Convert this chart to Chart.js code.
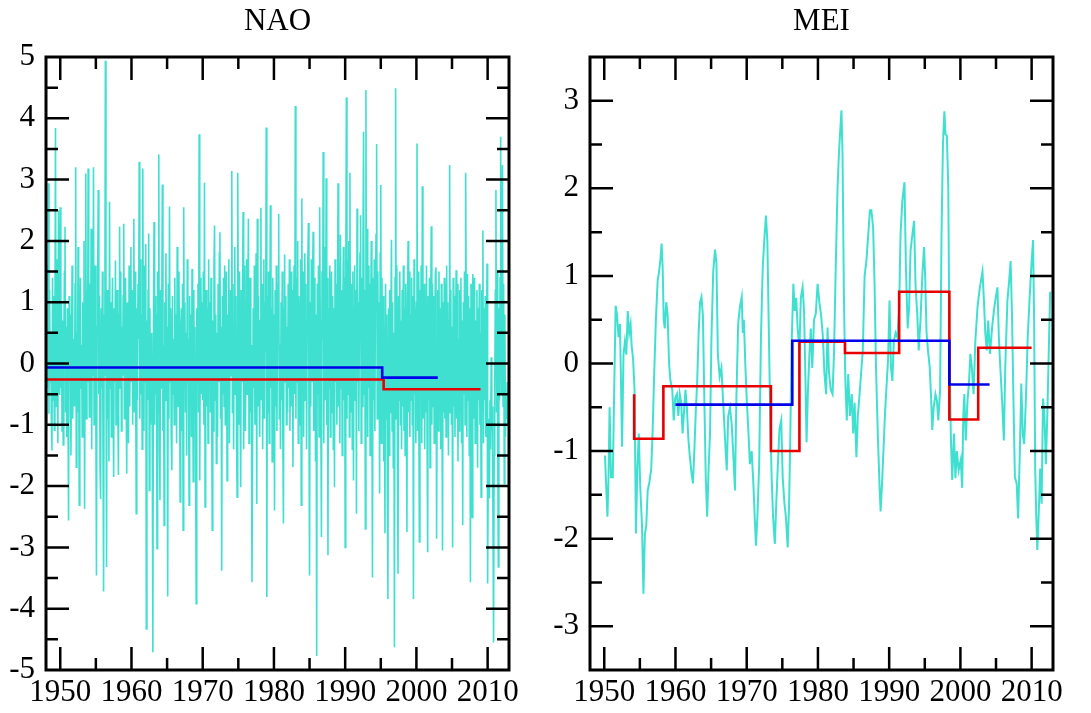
<!DOCTYPE html>
<html><head><meta charset="utf-8">
<script src="https://cdn.jsdelivr.net/npm/chart.js@4.4.1/dist/chart.umd.min.js"></script>
<style>
html,body{margin:0;padding:0;background:#fff;}
#wrap{position:relative;width:1091px;height:713px;overflow:hidden;}
canvas{position:absolute;top:0;}
</style></head><body>
<div id="wrap">
<canvas id="nao" width="545" height="713" style="left:0px"></canvas>
<canvas id="mei" width="546" height="713" style="left:545px"></canvas>
</div>
<script>
// ---------- DATA ----------
const naoStartYear = 1948;
const naoMonthly = [
 0.8,-1.1,1.6,-0.4,2.94,-0.82,1.2,-0.3,0.5,-0.9,-1.42,1.4,
 -0.6,1.1,-1.09,0.4,3.84,-0.7,1.7,0.2,-1.3,2.5,-0.5,0.9,
 2.55,-0.4,1.0,-1.1,0.7,-1.33,0.3,1.5,2.23,-0.8,0.6,-1.2,
 0.9,-0.6,-2.56,1.1,-0.3,0.8,-1.5,0.2,1.6,-0.9,0.4,-0.2,
 -0.7,1.3,3.2,-1.69,0.5,-0.8,1.9,0.1,-2.31,0.6,1.4,-0.4,
 0.3,-1.2,1.0,-0.5,2.0,-2.37,0.7,3.1,-0.9,1.2,-0.3,3.18,
 0.5,-0.87,1.3,-0.6,2.2,-1.4,0.9,-0.2,3.2,-1.0,0.4,1.6,
 -0.8,-3.46,0.6,1.4,2.83,-0.5,1.1,-1.7,-2.21,0.9,-0.4,1.5,
 -1.3,-3.72,0.8,-0.2,4.94,0.6,-3.32,1.2,-0.9,0.5,-1.6,2.64,
 -0.4,1.0,-1.2,0.3,1.4,-0.6,-1.85,0.9,-0.3,1.68,-1.0,0.5,
 1.2,-0.7,-1.82,0.8,2.23,-0.4,1.5,-1.1,0.6,-0.2,1.1,2.28,
 -0.9,0.7,1.4,-0.5,-1.8,1.0,0.2,-1.3,1.6,-0.7,0.4,1.9,
 -0.3,1.2,-1.0,0.6,2.36,-0.8,1.5,-0.1,-2.45,0.9,-0.6,1.3,
 0.4,3.29,-0.9,1.7,-0.5,0.8,-1.4,3.18,0.2,-1.1,1.6,-0.3,
 1.95,-4.33,0.7,-0.6,1.2,2.12,-2.07,0.9,-1.0,-0.4,0.5,-1.2,
 -4.71,0.4,2.31,-1.0,1.1,-0.5,0.8,-3.02,1.5,-0.8,3.41,-1.3,
 -2.23,1.2,-0.4,0.7,2.92,-1.1,0.3,-2.64,1.0,-0.6,1.8,-0.2,
 0.6,-3.8,1.3,-0.9,2.56,-0.3,0.9,-1.2,-1.74,1.1,-0.5,0.4,
 -1.0,1.4,-0.6,0.8,-1.3,1.9,0.2,-0.7,1.5,-0.2,-2.26,0.6,
 0.9,-1.1,1.3,-2.72,2.55,-0.4,1.0,-0.8,0.5,-1.5,1.7,-0.3,
 0.4,-2.31,1.1,-0.5,0.8,-1.2,1.54,0.3,-1.93,1.2,-0.7,0.6,
 -1.4,-3.92,0.9,-0.3,1.3,-0.8,3.74,-1.91,0.6,1.4,-0.5,1.0,
 -0.6,1.5,-1.0,2.95,-2.34,0.4,1.2,-0.7,0.9,-1.3,1.7,-0.2,
 1.0,-0.8,1.4,-0.4,-2.72,0.7,-1.1,1.6,2.25,-0.6,0.8,-1.63,
 0.5,-1.2,1.3,-0.3,1.8,2.14,-0.9,0.6,-3.38,1.1,-0.5,1.4,
 -0.7,1.6,-1.0,0.9,1.5,-1.91,0.8,-0.4,1.7,-1.3,0.3,1.2,
 -0.2,3.14,-0.8,1.3,-1.4,0.6,1.9,-0.5,1.1,-1.2,-2.18,3.11,
 0.7,-1.0,1.5,-0.6,-2.02,1.2,-0.3,0.9,2.47,-1.4,0.4,1.6,
 -1.1,0.8,1.7,-0.5,1.0,2.36,-1.3,0.6,1.4,-0.8,0.3,-3.57,
 -1.5,0.9,-0.4,1.6,-1.0,0.5,1.8,-2.29,2.36,-0.7,1.1,-0.3,
 -1.2,0.7,2.54,-0.6,1.3,-1.4,0.4,1.7,-0.9,1.0,0.2,3.85,
 -3.81,1.1,-0.8,1.5,-1.3,0.6,2.58,-0.4,0.9,-1.6,1.4,-0.5,
 0.8,-2.4,1.2,-0.7,1.6,-1.1,0.5,1.3,2.44,-0.9,0.3,-1.4,
 1.0,-0.6,1.5,-1.2,-2.61,0.9,1.78,-0.3,1.1,-1.0,0.6,-0.8,
 1.3,-0.4,1.7,-1.1,0.8,1.5,-0.7,1.2,-1.69,0.9,1.6,-0.5,
 4.2,-0.9,1.4,-0.3,2.0,-1.3,1.1,0.6,-1.0,1.7,-2.31,2.69,
 -0.4,1.5,-1.2,0.9,1.8,-0.6,1.3,-1.4,0.7,1.6,2.29,-0.8,
 -3.46,1.0,-0.7,1.7,-0.3,1.2,2.15,-1.1,0.5,1.4,-1.6,0.8,
 -4.77,1.3,-0.5,1.6,-1.2,2.55,0.7,-0.9,-2.83,1.5,0.4,3.45,
 -1.3,0.8,1.9,-0.6,3.02,-1.0,1.4,-3.13,0.9,-0.4,1.6,-1.2,
 0.6,1.5,-0.8,1.1,-1.4,0.9,-2.02,1.7,-0.3,1.3,-1.0,0.5,
 2.94,-0.7,1.6,-1.3,2.1,-0.4,1.2,-1.5,0.8,1.9,-0.6,1.4,
 -3.0,1.1,4.34,-0.9,1.7,-0.5,2.0,-1.2,3.11,-0.8,1.3,0.4,
 -1.4,1.5,-1.91,0.9,1.6,-0.6,1.2,-2.45,2.53,-0.3,1.0,-1.1,
 0.7,1.8,2.42,-1.3,1.4,-0.7,1.9,3.78,-0.5,1.2,-2.7,4.46,
 -0.9,2.2,-1.2,1.6,-0.4,1.3,-1.5,0.8,2.0,-0.7,-3.49,1.4,
 -0.6,1.7,-1.1,1.2,2.1,3.58,-0.9,1.5,-0.3,1.0,-2.12,1.8,
 2.91,-1.3,1.4,-0.5,1.1,-1.6,0.6,-2.77,1.3,-0.9,0.8,-1.8,
 -3.84,0.9,-1.5,1.2,-0.8,0.6,2.02,-1.1,1.0,-1.7,0.5,-4.63,
 1.4,4.49,-0.9,1.6,-1.2,-3.43,1.1,-0.6,1.5,-1.0,0.7,-1.4,
 1.2,-0.7,1.6,-1.1,0.9,-1.5,1.3,-0.4,-2.75,1.0,2.0,-0.8,
 1.5,-1.2,0.8,-0.6,1.4,-1.0,1.1,-3.84,1.7,-0.5,0.9,-1.3,
 1.0,3.59,-1.1,1.5,-0.7,-2.91,1.2,-0.4,1.6,-1.3,2.89,-0.9,
 -0.5,1.3,-1.4,0.9,-0.8,1.6,-1.2,-3.08,1.1,-0.6,1.4,-1.7,
 0.8,2.24,-1.0,1.3,-0.7,1.1,-1.3,0.6,1.5,1.57,-2.86,-0.4,
 1.2,-1.1,1.5,-0.6,0.9,-1.4,1.3,-0.5,-3.05,1.0,-0.8,1.4,
 -0.9,1.3,-1.2,1.6,-0.4,1.0,-1.5,0.7,3.24,-0.8,1.2,-1.0,
 0.6,-3.0,1.4,-0.7,1.1,-1.2,0.5,1.52,-0.9,1.3,-1.6,0.4,
 -1.1,1.2,-0.8,1.4,-1.3,0.7,-2.64,1.0,-0.5,1.5,-1.0,3.11,
 0.8,-1.2,1.46,-0.6,1.1,-1.5,0.9,-3.57,1.3,-0.7,-2.51,1.46,
 1.0,-0.9,1.4,-1.3,0.7,-1.1,1.2,-1.7,0.9,-0.6,1.3,-1.0,
 0.5,-2.18,1.2,-0.8,2.17,-1.3,0.9,-0.6,1.1,-1.2,0.4,1.63,
 -3.59,-1.8,-0.9,-2.2,-0.6,-1.4,0.1,-1.1,-0.7,-2.6,-4.55,-1.5,
 -0.4,1.2,2.83,-0.8,1.5,-1.3,-3.32,0.9,-0.6,1.4,3.7,-0.5,
 1.1,3.24,-0.7,1.3,-1.96,0.8,-1.2,-0.6,-0.9,-0.3,-1.0,-0.6
];
const naoBlueX = [1948, 1995.2, 2003.0];
const naoBlueY = [-0.065, -0.23, -0.23];
const naoRedX  = [1948, 1995.4, 2009.0];
const naoRedY  = [-0.26, -0.42, -0.42];

const meiSeries = [
 [1950.1,-1.05],[1950.25,-1.35],[1950.45,-1.75],[1950.6,-1.3],[1950.75,-0.5],[1950.95,-1.3],
 [1951.2,-1.3],[1951.4,-0.3],[1951.6,0.66],[1951.8,0.55],[1952.0,0.3],[1952.2,0.45],
 [1952.35,-0.2],[1952.5,-0.95],[1952.7,0.1],[1952.9,0.25],[1953.1,0.1],[1953.3,0.6],
 [1953.5,0.35],[1953.7,0.45],[1953.85,0.2],[1954.05,0.05],[1954.25,-0.3],[1954.45,-1.94],
 [1954.65,-1.2],[1954.85,-0.8],[1955.05,-1.4],[1955.3,-1.85],[1955.5,-2.63],[1955.7,-1.95],
 [1955.9,-1.85],[1956.1,-1.45],[1956.35,-1.35],[1956.6,-1.2],[1956.8,-0.75],[1957.0,-0.15],
 [1957.25,0.5],[1957.5,0.95],[1957.7,1.05],[1957.9,1.2],[1958.05,1.37],[1958.2,1.1],
 [1958.35,0.5],[1958.5,0.4],[1958.7,0.7],[1958.9,0.55],[1959.1,0.0],[1959.3,-0.2],
 [1959.55,-0.3],[1959.75,-0.65],[1959.95,-0.4],[1960.2,-0.35],[1960.4,-0.6],[1960.6,-0.35],
 [1960.8,-0.45],[1961.0,-0.8],[1961.2,-0.55],[1961.4,-0.3],[1961.6,-0.5],[1961.8,-0.85],
 [1962.0,-1.05],[1962.25,-1.25],[1962.45,-1.37],[1962.65,-1.0],[1962.85,-0.55],[1963.05,-0.2],
 [1963.25,0.35],[1963.45,0.7],[1963.65,0.76],[1963.85,0.55],[1964.05,-0.4],[1964.25,-1.3],
 [1964.45,-1.75],[1964.65,-1.2],[1964.85,-0.8],[1965.05,0.3],[1965.3,1.05],[1965.55,1.3],
 [1965.75,1.15],[1965.95,0.1],[1966.2,-0.15],[1966.45,-0.05],[1966.7,-0.45],[1966.95,-0.85],
 [1967.2,-1.22],[1967.4,-0.6],[1967.65,-0.5],[1967.9,-0.7],[1968.15,-1.1],[1968.35,-1.45],
 [1968.55,-0.4],[1968.8,0.45],[1969.05,0.65],[1969.3,0.76],[1969.45,0.35],[1969.6,0.5],
 [1969.8,0.0],[1970.0,-0.4],[1970.25,-0.8],[1970.45,-1.15],[1970.7,-1.0],[1970.95,-1.4],
 [1971.15,-1.8],[1971.3,-2.08],[1971.5,-1.75],[1971.75,-1.15],[1972.0,0.3],[1972.25,1.1],
 [1972.5,1.45],[1972.7,1.69],[1972.9,1.4],[1973.1,0.4],[1973.3,-0.6],[1973.5,-1.3],
 [1973.7,-1.75],[1973.95,-2.06],[1974.15,-1.6],[1974.35,-1.2],[1974.6,-0.75],[1974.85,-0.65],
 [1975.05,-1.3],[1975.3,-1.6],[1975.5,-1.75],[1975.75,-2.1],[1975.95,-1.6],[1976.1,-0.95],
 [1976.3,0.2],[1976.55,0.91],[1976.75,0.6],[1976.95,0.75],[1977.15,0.4],[1977.4,0.15],
 [1977.6,0.75],[1977.85,0.87],[1978.05,0.6],[1978.25,-0.2],[1978.4,-0.9],[1978.6,-0.3],
 [1978.8,0.1],[1979.0,0.4],[1979.2,-0.05],[1979.45,0.5],[1979.7,0.57],[1979.95,0.91],
 [1980.2,0.7],[1980.45,0.55],[1980.7,0.3],[1980.9,-0.1],[1981.15,-0.35],[1981.35,0.41],
 [1981.55,-0.1],[1981.8,-0.3],[1982.05,-0.35],[1982.25,0.1],[1982.5,1.1],[1982.75,2.0],
 [1982.95,2.4],[1983.1,2.62],[1983.3,2.89],[1983.45,2.4],[1983.65,0.75],[1983.85,-0.2],
 [1984.05,-0.65],[1984.25,-0.12],[1984.5,-0.6],[1984.75,-0.35],[1984.95,-0.8],[1985.15,-0.45],
 [1985.4,-1.07],[1985.6,-0.6],[1985.85,-0.35],[1986.05,-0.12],[1986.3,0.15],[1986.55,1.0],
 [1986.8,1.17],[1987.0,1.4],[1987.3,1.75],[1987.5,1.75],[1987.75,1.55],[1987.95,0.9],
 [1988.15,-0.04],[1988.4,-0.8],[1988.65,-1.4],[1988.8,-1.69],[1989.0,-1.37],[1989.2,-0.99],
 [1989.4,-0.6],[1989.6,-0.3],[1989.85,0.05],[1990.05,0.72],[1990.25,-0.04],[1990.45,-0.2],
 [1990.65,0.25],[1990.9,0.35],[1991.15,0.3],[1991.4,0.64],[1991.6,1.48],[1991.85,1.86],
 [1992.15,2.07],[1992.35,1.1],[1992.6,0.4],[1992.8,0.64],[1993.0,1.29],[1993.3,1.5],
 [1993.5,1.63],[1993.7,0.9],[1993.95,0.55],[1994.15,0.15],[1994.4,0.5],[1994.65,1.0],
 [1994.9,1.33],[1995.05,1.0],[1995.25,0.35],[1995.45,0.15],[1995.7,-0.05],[1995.9,-0.42],
 [1996.05,-0.76],[1996.25,-0.5],[1996.5,-0.35],[1996.7,-0.42],[1996.9,-0.65],[1997.15,-0.3],
 [1997.35,1.48],[1997.55,2.5],[1997.75,2.88],[1997.9,2.62],[1998.1,2.6],[1998.3,2.0],
 [1998.45,0.35],[1998.65,-0.8],[1998.85,-1.33],[1999.1,-0.8],[1999.3,-1.31],[1999.5,-1.0],
 [1999.75,-1.22],[2000.05,-1.1],[2000.25,-1.42],[2000.4,-0.61],[2000.55,-0.35],[2000.75,-0.88],
 [2001.0,-0.42],[2001.2,-0.23],[2001.4,0.11],[2001.6,-0.04],[2001.85,-0.35],[2002.1,0.26],
 [2002.4,0.64],[2002.7,0.85],[2003.1,1.05],[2003.3,0.72],[2003.5,0.34],[2003.7,0.15],
 [2003.9,0.49],[2004.15,0.11],[2004.45,0.41],[2004.7,0.6],[2004.95,0.75],[2005.2,0.87],
 [2005.4,0.3],[2005.6,-0.04],[2005.85,-0.42],[2006.1,-0.88],[2006.3,-0.04],[2006.6,0.72],
 [2006.85,0.95],[2007.05,1.17],[2007.25,0.53],[2007.45,-0.42],[2007.65,-1.3],[2007.9,-1.37],
 [2008.1,-1.77],[2008.35,-0.99],[2008.55,-0.23],[2008.75,-0.8],[2008.95,-0.92],[2009.2,-0.4],
 [2009.45,0.3],[2009.7,0.72],[2009.95,1.1],[2010.2,1.41],[2010.35,0.5],[2010.5,-1.2],
 [2010.65,-1.75],[2010.8,-2.13],[2011.0,-1.7],[2011.2,-1.2],[2011.4,-1.6],[2011.6,-0.4],
 [2011.8,-0.6],[2012.0,-1.15],[2012.2,-0.6],[2012.45,0.3],[2012.6,0.82]
];
const meiRedX  = [1954.2, 1954.2, 1958.3, 1973.4, 1977.4, 1983.8, 1991.4, 1998.45, 2002.5, 2010.0];
const meiRedY  = [-0.35, -0.86, -0.26, -1.0, 0.25, 0.12, 0.82, -0.64, 0.18, 0.18];
const meiBlueX = [1960.0, 1976.4, 1998.45, 2004.1];
const meiBlueY = [-0.47, 0.26, -0.24, -0.24];

const xTicks = [1950,1955,1960,1965,1970,1975,1980,1985,1990,1995,2000,2005,2010];
const xLabels = [1950,1960,1970,1980,1990,2000,2010];
const naoYTicks = [-5,-4.5,-4,-3.5,-3,-2.5,-2,-1.5,-1,-0.5,0,0.5,1,1.5,2,2.5,3,3.5,4,4.5,5];
const naoYLabels = [-5,-4,-3,-2,-1,0,1,2,3,4,5];
const meiYTicks = [-3,-2.5,-2,-1.5,-1,-0.5,0,0.5,1,1.5,2,2.5,3];
const meiYLabels = [-3,-2,-1,0,1,2,3];

// ---------- STYLE ----------
const SERIF = "'Liberation Serif', 'Times New Roman', serif";
const TURQ = '#40e0d0', RED = '#e80000', BLUE = '#0000e8';

const frameTicks = {
  id: 'frameTicks',
  afterDatasetsDraw(chart) {
    const {ctx, chartArea: a, scales} = chart;
    const xs = scales.x, ys = scales.y;
    ctx.save();
    ctx.strokeStyle = '#000';
    ctx.lineWidth = 2.5;
    ctx.beginPath();
    xs.ticks.forEach(t => {
      const v = t.value;
      if (v <= xs.min || v >= xs.max) return;
      const len = (Math.abs(v % 10) < 1e-6) ? 23 : 12;
      const px = xs.getPixelForValue(v);
      ctx.moveTo(px, a.top); ctx.lineTo(px, a.top + len);
      ctx.moveTo(px, a.bottom); ctx.lineTo(px, a.bottom - len);
    });
    ys.ticks.forEach(t => {
      const v = t.value;
      if (v <= ys.min + 1e-9 || v >= ys.max - 1e-9) return;
      const len = (Math.abs(v - Math.round(v)) < 1e-6) ? 23 : 12;
      const py = ys.getPixelForValue(v);
      ctx.moveTo(a.left, py); ctx.lineTo(a.left + len, py);
      ctx.moveTo(a.right, py); ctx.lineTo(a.right - len, py);
    });
    ctx.stroke();
    ctx.lineWidth = 3;
    ctx.strokeRect(a.left, a.top, a.right - a.left, a.bottom - a.top);
    ctx.restore();
  }
};

function stepData(xs, ys) { return xs.map((x, i) => ({x: x, y: ys[i]})); }

function makeChart(id, title, series, seriesWidth, red, blue, yMin, yMax, yTicks, yLabels, yWidth, padRight) {
  return new Chart(document.getElementById(id), {
    type: 'line',
    data: { datasets: [
      {data: blue, borderColor: BLUE, borderWidth: 2.6, stepped: 'before', pointRadius: 0, fill: false, order: 0},
      {data: red, borderColor: RED, borderWidth: 2.6, stepped: 'before', pointRadius: 0, fill: false, order: 1},
      {data: series, borderColor: TURQ, borderWidth: seriesWidth, pointRadius: 0, tension: 0, fill: false, order: 2}
    ]},
    options: {
      responsive: false, animation: false, devicePixelRatio: 1,
      layout: {padding: {left: 0, right: padRight, top: 0, bottom: 0}},
      plugins: {
        legend: {display: false}, tooltip: {enabled: false},
        title: {display: true, text: title, color: '#000', fullSize: false,
                font: {family: SERIF, size: 31, weight: 'normal', lineHeight: 1.2},
                padding: {top: 3, bottom: 16.8}}
      },
      scales: {
        x: {type: 'linear', min: 1948, max: 2013,
            afterBuildTicks: s => { s.ticks = xTicks.map(v => ({value: v})); },
            afterFit: s => { s.height = 43; },
            grid: {display: false, drawTicks: false}, border: {display: false},
            ticks: {autoSkip: false, maxRotation: 0, padding: 4, color: '#000',
                    font: {family: SERIF, size: 31},
                    callback: v => xLabels.includes(v) ? String(v) : ''}},
        y: {type: 'linear', min: yMin, max: yMax,
            afterBuildTicks: s => { s.ticks = yTicks.map(v => ({value: v})); },
            afterFit: s => { s.width = yWidth; },
            grid: {display: false, drawTicks: false}, border: {display: false},
            ticks: {autoSkip: false, padding: 11, color: '#000',
                    font: {family: SERIF, size: 31},
                    callback: v => yLabels.includes(v) ? String(v) : ''}}
      }
    },
    plugins: [frameTicks]
  });
}

const naoPoints = naoMonthly.map((v, i) => ({x: naoStartYear + i / 12, y: v}));
const meiPoints = meiSeries.map(p => ({x: p[0], y: p[1]}));

makeChart('nao', 'NAO', naoPoints, 1.6, stepData(naoRedX, naoRedY), stepData(naoBlueX, naoBlueY),
          -5, 5, naoYTicks, naoYLabels, 46, 36);
makeChart('mei', 'MEI', meiPoints, 2.0, stepData(meiRedX, meiRedY), stepData(meiBlueX, meiBlueY),
          -3.5, 3.5, meiYTicks, meiYLabels, 45, 38);
</script>
</body></html>
